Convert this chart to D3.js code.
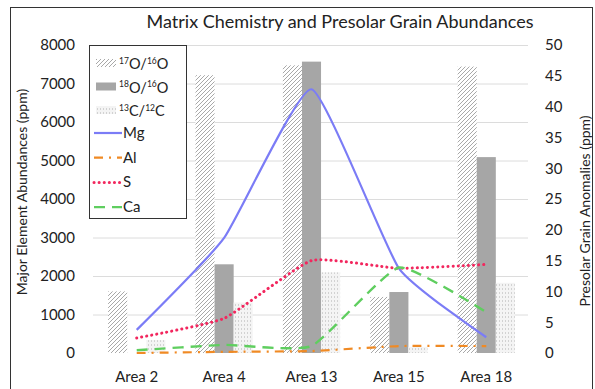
<!DOCTYPE html>
<html>
<head>
<meta charset="utf-8">
<script src="https://cdn.jsdelivr.net/npm/d3@7"></script>
<style>
  body { margin: 0; background: #fff; }
  svg text { font-family: Lato, "Open Sans", sans-serif; fill: #222; }
</style>
</head>
<body>
<svg id="chart" width="595" height="389"></svg>
<script>
// categories and series
const categories = ["Area 2", "Area 4", "Area 13", "Area 15", "Area 18"];
const o17 = [10, 45.1, 46.7, 9.1, 46.5];     // 17O/16O (right axis)
const o18 = [0, 14.4, 47.3, 9.9, 31.8];      // 18O/16O (right axis)
const c13 = [2.1, 8.2, 13.1, 1.0, 11.4];     // 13C/12C (right axis)
const mg = [600, 2990, 6850, 2200, 410];     // left axis
const al = [0, 30, 50, 180, 180];
const sul = [390, 900, 2400, 2200, 2300];
const ca = [70, 210, 180, 2220, 1060];
const leftTicks = [0, 1000, 2000, 3000, 4000, 5000, 6000, 7000, 8000];
const rightTicks = [0, 5, 10, 15, 20, 25, 30, 35, 40, 45, 50];

const svg = d3.select("#chart");
const defs = svg.append("defs");

/* bar fill patterns */
const hatch = defs.append("pattern").attr("id", "hatch")
    .attr("patternUnits", "userSpaceOnUse").attr("width", 4).attr("height", 4);
hatch.append("rect").attr("width", 4).attr("height", 4).attr("fill", "#fff");
hatch.append("path").attr("d", "M0,4 L4,0 M-1,1 L1,-1 M3,5 L5,3")
    .attr("stroke", "#a8a8a8").attr("stroke-width", 1);

const dots = defs.append("pattern").attr("id", "dots")
    .attr("patternUnits", "userSpaceOnUse").attr("width", 3).attr("height", 4);
dots.append("rect").attr("width", 3).attr("height", 4).attr("fill", "#f4f4f4");
dots.append("rect").attr("x", 1).attr("width", 1).attr("height", 2).attr("fill", "#d2d2d2");

const barSeries = [
    {key: "o17", vals: o17, fill: "url(#hatch)"},
    {key: "o18", vals: o18, fill: "#a6a6a6"},
    {key: "c13", vals: c13, fill: "url(#dots)"}
];

const x = d3.scaleBand().domain(categories).range([95, 528])
    .paddingInner(0.345).paddingOuter(0.15);
const x1 = d3.scaleBand().domain(barSeries.map(d => d.key)).range([0, x.bandwidth()]);
const yL = d3.scaleLinear().domain([0, 8000]).range([353, 45]);
const yR = d3.scaleLinear().domain([0, 50]).range([353, 45]);

// outer frame
svg.append("rect").attr("x", 10.5).attr("y", 7.5).attr("width", 582).attr("height", 400)
    .attr("fill", "none").attr("stroke", "#333").attr("stroke-width", 1);

// title
svg.append("text").attr("x", 340).attr("y", 28).attr("text-anchor", "middle")
    .style("font-size", "18px").text("Matrix Chemistry and Presolar Grain Abundances");

// gridlines
svg.append("g").selectAll("line").data(leftTicks.slice(1)).enter().append("line")
    .attr("x1", 93).attr("x2", 528)
    .attr("y1", d => yL(d) + 0.5).attr("y2", d => yL(d) + 0.5)
    .attr("stroke", "#dcdcdc").attr("stroke-width", 1);

// left axis
const leftAxis = svg.append("g").attr("transform", "translate(82,0)")
    .call(d3.axisLeft(yL).tickValues(leftTicks).tickFormat(d3.format("d")).tickSize(0).tickPadding(7));
leftAxis.select(".domain").remove();
leftAxis.selectAll("text").style("font-size", "15px").style("font-family", "Lato, sans-serif")
    .attr("fill", "#222");

// right axis
const rightAxis = svg.append("g").attr("transform", "translate(538,0)")
    .call(d3.axisRight(yR).tickValues(rightTicks).tickSize(0).tickPadding(7));
rightAxis.select(".domain").remove();
rightAxis.selectAll("text").style("font-size", "15px").style("font-family", "Lato, sans-serif")
    .attr("fill", "#222");

// x labels
svg.append("g").selectAll("text").data(categories).enter().append("text")
    .attr("x", d => x(d) + x.bandwidth() / 2).attr("y", 382)
    .attr("text-anchor", "middle").style("font-size", "15px").text(d => d);

// axis titles
svg.append("text").attr("transform", "translate(27,192) rotate(-90)")
    .attr("text-anchor", "middle").style("font-size", "14px")
    .text("Major Element Abundances (ppm)");
svg.append("text").attr("transform", "translate(590,211) rotate(-90)")
    .attr("text-anchor", "middle").style("font-size", "14px")
    .text("Presolar Grain Anomalies (ppm)");

// bars
barSeries.forEach(s => {
    svg.append("g").selectAll("rect").data(categories).enter().append("rect")
        .attr("x", (d, i) => x(d) + x1(s.key))
        .attr("width", x1.bandwidth())
        .attr("y", (d, i) => yR(s.vals[i]))
        .attr("height", (d, i) => yR(0) - yR(s.vals[i]))
        .attr("fill", s.fill);
});

// lines
const lineSeries = [
    {name: "Mg", vals: mg, color: "#7b7cf6", dash: null, cap: "butt", w: 2.2},
    {name: "Al", vals: al, color: "#f08a24", dash: "9 6 2 6", cap: "butt", w: 2.2},
    {name: "S", vals: sul, color: "#f2275e", dash: "0.1 5", cap: "round", w: 3},
    {name: "Ca", vals: ca, color: "#5fce5f", dash: "11 7", cap: "butt", w: 2.4}
];
const line = d3.line()
    .x((d, i) => x(categories[i]) + x.bandwidth() / 2)
    .y(d => yL(d))
    .curve(d3.curveCardinal.tension(0.55));

lineSeries.forEach(s => {
    svg.append("path").datum(s.vals).attr("d", line)
        .attr("fill", "none").attr("stroke", s.color).attr("stroke-width", s.w)
        .attr("stroke-dasharray", s.dash).attr("stroke-linecap", s.cap);
});

// legend
const lg = svg.append("g");
lg.append("rect").attr("x", 89.5).attr("y", 45.5).attr("width", 97).attr("height", 173)
    .attr("fill", "#fff").attr("stroke", "#333").attr("stroke-width", 1);

const barLabels = [["17", "O/", "16", "O"], ["18", "O/", "16", "O"], ["13", "C/", "12", "C"]];
barSeries.forEach((s, i) => {
    const cy = 63 + i * 23.5;
    lg.append("rect").attr("x", 96).attr("y", cy - 4).attr("width", 20).attr("height", 8)
        .attr("fill", s.fill);
    const t = lg.append("text").attr("x", 119).attr("y", cy + 6).style("font-size", "14.5px");
    const p = barLabels[i];
    t.append("tspan").attr("dy", -5.5).style("font-size", "8.5px").text(p[0]);
    t.append("tspan").attr("dy", 5.5).text(p[1]);
    t.append("tspan").attr("dy", -5.5).style("font-size", "8.5px").text(p[2]);
    t.append("tspan").attr("dy", 5.5).text(p[3]);
});

lineSeries.forEach((s, i) => {
    const cy = 133 + i * 24.7;
    lg.append("line").attr("x1", 94).attr("x2", 122).attr("y1", cy).attr("y2", cy)
        .attr("stroke", s.color).attr("stroke-width", s.w)
        .attr("stroke-dasharray", s.dash).attr("stroke-linecap", s.cap);
    lg.append("text").attr("x", 123).attr("y", cy + 5).style("font-size", "15px").text(s.name);
});
</script>
</body>
</html>
